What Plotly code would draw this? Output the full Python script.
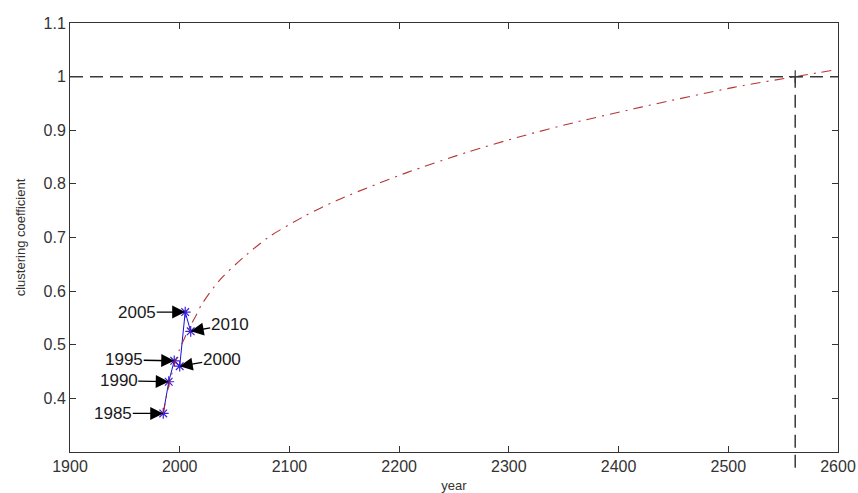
import plotly.graph_objects as go

# observed data (blue line with asterisks)
years = [1985, 1990, 1995, 2000, 2005, 2010]
coef = [0.372, 0.431, 0.470, 0.460, 0.561, 0.525]
year_labels = ["1985", "1990", "1995", "2000", "2005", "2010"]

# fitted / projected curve (red dash-dot)
fit_years = [1985, 1988, 1992, 1996, 2000, 2005, 2010, 2015, 2020, 2037, 2061,
             2082, 2113, 2143, 2180, 2207, 2262, 2310, 2359, 2414, 2429,
             2505, 2561, 2584, 2596]
fit_vals = [0.372, 0.405, 0.440, 0.468, 0.492, 0.515, 0.536, 0.555, 0.575,
            0.622, 0.668, 0.702, 0.739, 0.769, 0.800, 0.821, 0.859, 0.888,
            0.914, 0.940, 0.947, 0.980, 1.000, 1.008, 1.012]

# saturation point
limit_val = 1.0
limit_year = 2561

x_ticks = [1900, 2000, 2100, 2200, 2300, 2400, 2500, 2600]
x_tick_text = ["1900", "2000", "2100", "2200", "2300", "2400", "2500", "2600"]
y_ticks = [0.4, 0.5, 0.6, 0.7, 0.8, 0.9, 1.0, 1.1]
y_tick_text = ["0.4", "0.5", "0.6", "0.7", "0.8", "0.9", "1", "1.1"]

x_range = [1900, 2600]
y_range = [0.3, 1.1]

FONT = "Liberation Sans, Arial, sans-serif"

fig = go.Figure()

fig.add_trace(go.Scatter(
    x=years, y=coef, mode="lines+markers",
    line=dict(color="#1010e0", width=1),
    marker=dict(symbol="asterisk-open", size=9, color="#3a20d8",
                line=dict(color="#3a20d8", width=1.2)),
    showlegend=False, hoverinfo="x+y",
))

fig.add_trace(go.Scatter(
    x=fit_years, y=fit_vals, mode="lines",
    line=dict(color="#b02020", width=1.1, dash="10px,6px,2px,6px",
              shape="spline", smoothing=0.8),
    opacity=0.9,
    showlegend=False, hoverinfo="x+y",
))

fig.add_trace(go.Scatter(
    x=[limit_year], y=[limit_val], mode="markers",
    marker=dict(symbol="cross-thin-open", size=9, color="#333333",
                line=dict(color="#333333", width=1.2)),
    showlegend=False, hoverinfo="x+y",
))

# horizontal limit line at 1
fig.add_shape(type="line", xref="x", yref="y",
              x0=x_range[0], x1=x_range[1], y0=limit_val, y1=limit_val,
              line=dict(color="#3a3a3a", width=1.5, dash="13px,7px"))
# vertical line at the crossing year, extending a bit below the axis
y_top_paper = (limit_val - y_range[0]) / (y_range[1] - y_range[0])
fig.add_shape(type="line", xref="x", yref="paper",
              x0=limit_year, x1=limit_year, y0=-0.037, y1=y_top_paper,
              line=dict(color="#3a3a3a", width=1.5, dash="13px,7px"))

# arrow annotations (text offsets in px)
offsets = {
    "1985": (-50, 0),
    "1990": (-50, -1),
    "1995": (-50, -1),
    "2000": (42, -7),
    "2005": (-48, 0),
    "2010": (39, -7),
}
for yr, val, lab in zip(years, coef, year_labels):
    ax, ay = offsets[lab]
    fig.add_annotation(
        x=yr, y=val, text=lab, showarrow=True,
        ax=ax, ay=ay, axref="pixel", ayref="pixel",
        arrowhead=2, arrowsize=2.0, arrowwidth=1.3, arrowcolor="#000000",
        font=dict(family=FONT, size=17, color="#1a1a1a"),
        borderpad=0,
    )

axis_common = dict(
    showgrid=False, zeroline=False, automargin=False,
    showline=True, linecolor="#333333", linewidth=1, mirror="ticks",
    ticks="inside", ticklen=6, tickcolor="#333333", tickwidth=1,
    tickfont=dict(family=FONT, size=16, color="#333333"),
)

fig.update_xaxes(
    range=x_range, tickvals=x_ticks, ticktext=x_tick_text,
    title=dict(text="year", font=dict(family=FONT, size=13, color="#333333"),
               standoff=10),
    **axis_common,
)
fig.update_yaxes(
    range=y_range, tickvals=y_ticks, ticktext=y_tick_text,
    title=dict(text="clustering coefficient",
               font=dict(family=FONT, size=13, color="#333333"), standoff=14),
    **axis_common,
)

fig.update_layout(
    width=858, height=493,
    margin=dict(l=70, r=20, t=23, b=41),
    paper_bgcolor="white", plot_bgcolor="white",
    showlegend=False,
)

fig.write_html("out.html")
